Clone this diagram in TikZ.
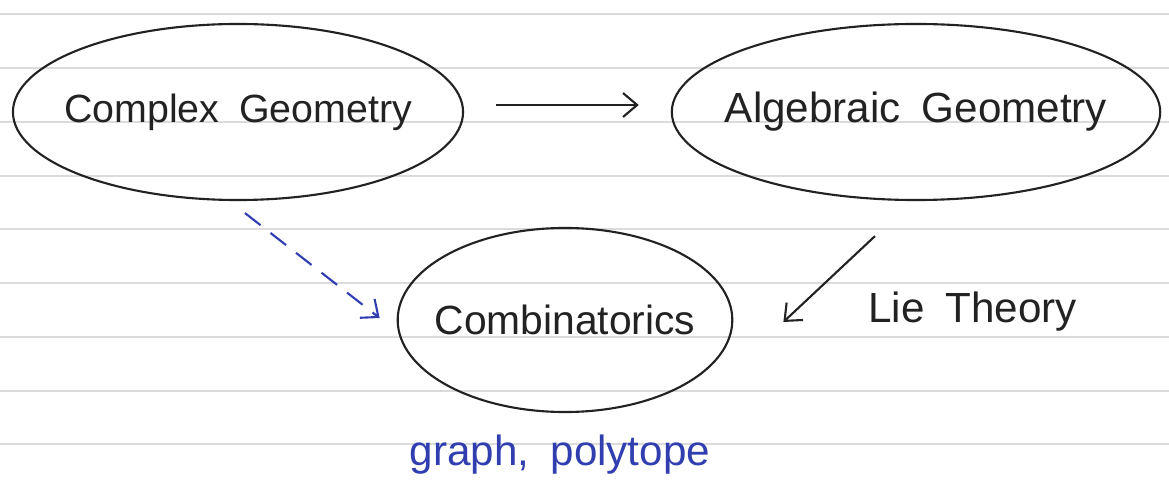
\documentclass[tikz,border=0pt]{standalone}
\usepackage{fontspec}
\setmainfont{Liberation Sans}
\usetikzlibrary{shapes.geometric, arrows.meta, positioning}
\usepackage{xcolor}
\definecolor{penblue}{RGB}{48,62,176}
\definecolor{penblack}{RGB}{34,34,34}

\begin{document}
\begin{tikzpicture}[x=0.025cm, y=-0.025cm, >={Straight Barb[length=10pt, width=17pt]},
  blob/.style={ellipse, draw=penblack, line width=1.5pt, inner ysep=0pt, text=penblack,
    font=\fontsize{#1}{36}\selectfont},
  blob/.default=30,
  note/.style={font=\fontsize{30}{36}\selectfont, inner sep=0pt},
  rule/.style={draw=gray!28, line width=1pt}]
  \useasboundingbox[fill=white] (0,0) rectangle (1169,484);
  \foreach \y in {14,68,122,176,229,283,337,391,444}
    \draw[rule] (0,\y) -- (1169,\y);
  \node[blob=28, inner xsep=-0.375cm, minimum width=11.25cm, minimum height=4.4cm] (complex) at (238,112) {Complex\enspace Geometry};
  \node[blob=30, inner xsep=-0.46cm, minimum width=12.2cm, minimum height=4.4cm] (algebraic) at (916,112) {Algebraic\enspace Geometry};
  \node[blob=29, inner xsep=-0.3cm, minimum width=8.25cm, minimum height=4.6cm] (comb) at (565,320) {Combinatorics};
  \node[note, text=penblack, anchor=west] (lie) at (868,312) {Lie\enspace Theory};
  \node[note, text=penblue] (graph) at (560,455) {graph,\enspace polytope};
  \draw[->, penblack, line width=1.5pt] ([shift={(32,-7)}]complex.east) -- ([shift={(-32,-7)}]algebraic.west);
  \draw[->, penblack, line width=1.5pt] ([shift={(-41,35)}]algebraic.south) -- ([shift={(50,2)}]comb.east);
  \draw[->, penblue, dashed, dash pattern=on 14pt off 9pt, line width=1.5pt] ([shift={(7,12)}]complex.south) -- ([shift={(-17,-2)}]comb.west);
\end{tikzpicture}
\end{document}
